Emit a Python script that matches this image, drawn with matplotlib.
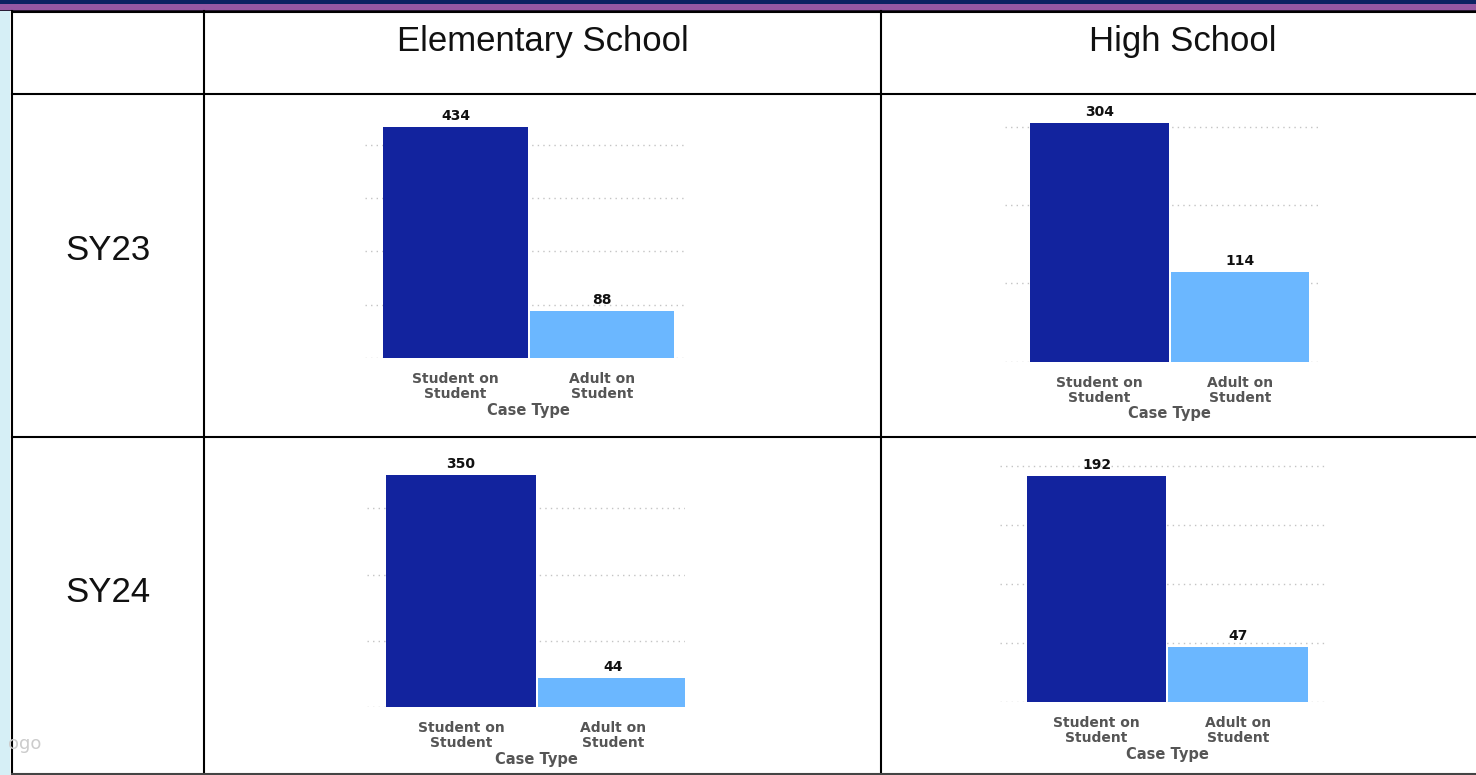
import matplotlib
matplotlib.use('Agg')
import matplotlib.pyplot as plt
from matplotlib.patches import Rectangle
from matplotlib.ticker import MultipleLocator
import matplotlib.transforms as mtransforms

# Data
case_types = ['Student on\nStudent', 'Adult on\nStudent']
school_levels = ['Elementary School', 'High School']
school_years = ['SY23', 'SY24']
elem_sy23 = [434, 88]
high_sy23 = [304, 114]
elem_sy24 = [350, 44]
high_sy24 = [192, 47]

dark_blue = '#12239E'
light_blue = '#6BB7FF'
tick_gray = '#555555'

W, H = 1476, 775
fig = plt.figure(figsize=(W / 100, H / 100), dpi=100)

# background layer in pixel coords (table, bands)
bg = fig.add_axes([0, 0, 1, 1])
bg.set_xlim(0, W)
bg.set_ylim(H, 0)
bg.axis('off')

bg.add_patch(Rectangle((0, 0), W, 3.5, color='#0c2262', lw=0))
bg.add_patch(Rectangle((0, 4), W, 5.5, color='#9658a3', lw=0))
bg.add_patch(Rectangle((0, 9.5), W, 1.5, color='#2b1c36', lw=0))
bg.add_patch(Rectangle((0, 11), 10, H - 11, color='#d6eff6', lw=0))

lw = 1.5
for x in [12, 204, 881]:
    bg.plot([x, x], [11, H], color='black', lw=lw)
for y in [11.5, 93.5, 436.5]:
    bg.plot([12, W], [y, y], color='black', lw=lw)
bg.plot([12, W], [773.5, 773.5], color='#444444', lw=lw)

hdr_font = dict(family='Liberation Sans', fontsize=25, color='#111111', ha='center', va='center')
bg.text(543, 42, school_levels[0], **hdr_font)
bg.text(1183, 42, school_levels[1], **hdr_font)
bg.text(108, 250, school_years[0], **hdr_font)
bg.text(108, 593, school_years[1], **hdr_font)
bg.text(8, 744, 'ogo', fontsize=13, color='#cccccc', ha='left', va='center')


def draw_panel(vals, left, right, base, top, pxu, c0, c1, step):
    ax = fig.add_axes([left / W, 1 - base / H, (right - left) / W, (base - top) / H])
    ax.set_facecolor('none')
    ax.set_xlim((left - c0) / (c1 - c0), (right - c0) / (c1 - c0))
    ax.set_ylim(0, (base - top) / pxu)
    bars = ax.bar(range(len(vals)), vals, width=0.985,
                  color=[dark_blue, light_blue], zorder=3)
    ax.bar_label(bars, padding=3, fontsize=10, fontweight='bold', color='#111111')
    ax.yaxis.set_major_locator(MultipleLocator(step))
    ax.grid(axis='y', linestyle=(0, (1, 3)), color='#c4c4c4', lw=1)
    ax.set_axisbelow(True)
    for s in ax.spines.values():
        s.set_visible(False)
    ax.tick_params(axis='y', length=0, labelleft=False)
    ax.set_xticks(range(len(vals)), case_types)
    ax.tick_params(axis='x', length=0, pad=10, labelsize=10, labelcolor=tick_gray)
    for lbl in ax.get_xticklabels():
        lbl.set_fontweight('bold')
        lbl.set_linespacing(1.1)
    trans = mtransforms.blended_transform_factory(ax.transData, ax.transAxes)
    ax.annotate('Case Type', xy=(0.5, 0), xycoords=trans, xytext=(0, -52 * 0.72),
                textcoords='offset points', ha='center', va='center',
                fontsize=10.5, fontweight='bold', color=tick_gray)
    return ax


draw_panel(elem_sy23, 365, 685, 358, 100, 0.533, 455.5, 602, 100)
draw_panel(high_sy23, 1005, 1322, 361.7, 100, 0.784, 1099.5, 1240, 100)
draw_panel(elem_sy24, 367, 685, 707.3, 445, 0.664, 461, 612.7, 100)
draw_panel(high_sy24, 1000, 1325, 702.3, 445, 1.179, 1096.5, 1238, 50)

fig.savefig('out.png', dpi=100)
